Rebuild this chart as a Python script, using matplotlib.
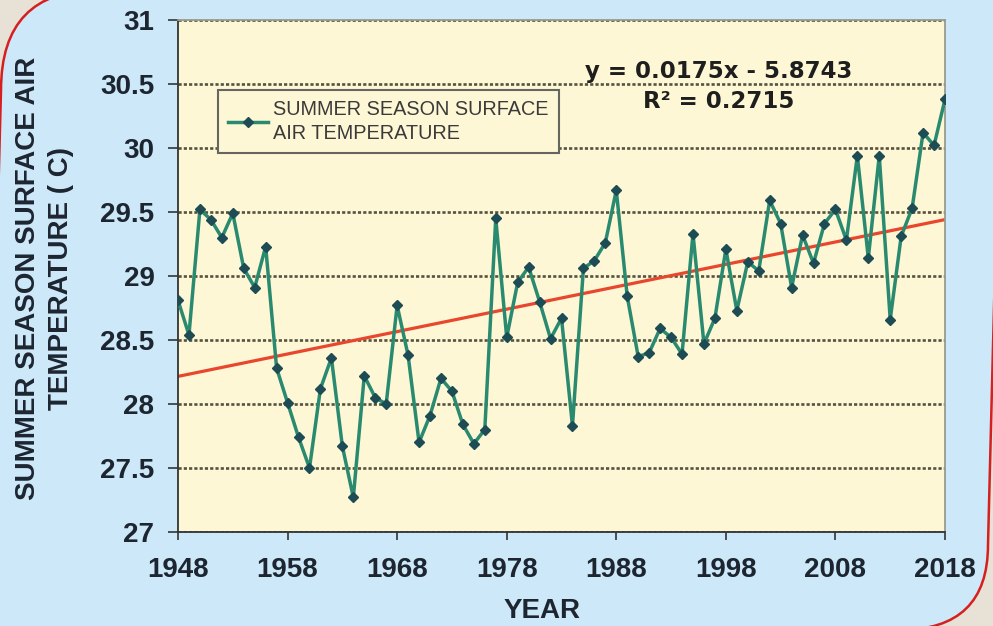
import matplotlib.pyplot as plt
import numpy as np
from matplotlib.path import Path
from matplotlib.patches import PathPatch

years = list(range(1948, 2019))
temps = [28.81, 28.54, 29.52, 29.44, 29.30, 29.49, 29.06, 28.91, 29.23, 28.28,
         28.01, 27.74, 27.50, 28.12, 28.36, 27.67, 27.27, 28.22, 28.05, 28.00,
         28.77, 28.38, 27.70, 27.91, 28.20, 28.10, 27.84, 27.69, 27.80, 29.45,
         28.52, 28.95, 29.07, 28.80, 28.51, 28.67, 27.83, 29.06, 29.12, 29.26,
         29.67, 28.84, 28.37, 28.40, 28.59, 28.52, 28.39, 29.33, 28.47, 28.67,
         29.21, 28.73, 29.11, 29.04, 29.59, 29.41, 28.91, 29.32, 29.10, 29.41,
         29.52, 29.28, 29.94, 29.14, 29.94, 28.66, 29.31, 29.53, 30.12, 30.02,
         30.38]
slope = 0.0175
intercept = -5.8743
r2 = 0.2715
xticks = [1948, 1958, 1968, 1978, 1988, 1998, 2008, 2018]
yticks = [27, 27.5, 28, 28.5, 29, 29.5, 30, 30.5, 31]
ytick_labels = ['27', '27.5', '28', '28.5', '29', '29.5', '30', '30.5', '31']

W, H = 993, 626
txt = '#1c2530'
bold = {'family': ['Liberation Sans', 'DejaVu Sans'], 'weight': 'bold'}

fig = plt.figure(figsize=(W / 100, H / 100), dpi=100)
fig.patch.set_facecolor('#e8e1d5')


def px(x, y):
    # pixel coords (y from top) -> inches
    return (x / 100, (H - y) / 100)


verts = [px(-15, 700), px(1, 90), px(1, -10), px(98, -10), px(1002, -10),
         px(988, 545), px(988, 630), px(900, 630), px(-15, 630), px(-15, 700)]
codes = [Path.MOVETO, Path.LINETO, Path.CURVE3, Path.CURVE3, Path.LINETO,
         Path.LINETO, Path.CURVE3, Path.CURVE3, Path.LINETO, Path.CLOSEPOLY]
panel = PathPatch(Path(verts, codes), facecolor='#cde8f8', edgecolor='#d61f1f',
                  lw=1.8, transform=fig.dpi_scale_trans, zorder=-1)
fig.add_artist(panel)

ax = fig.add_axes([178 / W, 1 - 532 / H, 767 / W, 512 / H])
ax.set_facecolor('#fdf7d6')

ax.yaxis.grid(True, linestyle=(0, (1.2, 0.8)), color='#55533f', lw=1.9, zorder=1)
ax.set_axisbelow(True)

yr = np.array(years)
ax.plot(yr, slope * yr + intercept, color='#e8472e', lw=2.3, zorder=2)
ax.plot(years, temps, color='#2a8a70', lw=2.5, marker='D', markersize=5,
        markerfacecolor='#1d4c55', markeredgecolor='#1d4c55', zorder=3,
        label='SUMMER SEASON SURFACE\nAIR TEMPERATURE')

ax.set_xlim(1948, 2018)
ax.set_ylim(27, 31)
ax.set_xticks(xticks)
ax.set_yticks(yticks)
ax.set_yticklabels(ytick_labels)
for lab in ax.get_xticklabels() + ax.get_yticklabels():
    lab.set_fontfamily(bold['family'])
    lab.set_fontweight('bold')
    lab.set_fontsize(20)
    lab.set_color(txt)
ax.tick_params(axis='y', direction='out', length=7, width=1.2, pad=10, colors='#333333')
ax.tick_params(axis='x', direction='out', length=6, width=1.2, pad=12, colors='#333333')
ax.tick_params(labelcolor=txt)

for s in ['left', 'bottom']:
    ax.spines[s].set_color('#333333')
    ax.spines[s].set_linewidth(1.3)
for s in ['top', 'right']:
    ax.spines[s].set_color('#9a9a90')
    ax.spines[s].set_linewidth(1.3)

ax.set_xlabel('YEAR', fontsize=20, color=txt, **bold)
ax.xaxis.set_label_coords((542 - 178) / 767, -0.128)
ax.set_ylabel('SUMMER SEASON SURFACE AIR\nTEMPERATURE ( C)', fontsize=20, color=txt,
              linespacing=1.3, va='center', ha='center', **bold)
ax.yaxis.set_label_coords((44.5 - 178) / 767, 0.496)

leg = ax.legend(loc='upper left', bbox_to_anchor=((218 - 178) / 767, 1 - 70 / 512),
                borderaxespad=0, borderpad=0.5, handlelength=2.0, handletextpad=0.28,
                fancybox=False, framealpha=1, facecolor='#fdf7d6', edgecolor='#666660',
                prop={'family': ['Liberation Sans', 'DejaVu Sans'], 'size': 14.3})
leg.get_frame().set_linewidth(1.5)
for t in leg.get_texts():
    t.set_color('#3a3a3a')
    t.set_linespacing(1.35)

eq_font = {'family': 'DejaVu Sans', 'weight': 'bold', 'size': 16.5}
ax.text((719 - 178) / 767, (532 - 78) / 512, f'y = {slope}x - {abs(intercept)}',
        transform=ax.transAxes, ha='center', va='baseline', color='#1e1e1e', **eq_font)
ax.text((719 - 178) / 767, (532 - 108) / 512, f'R² = {r2}',
        transform=ax.transAxes, ha='center', va='baseline', color='#1e1e1e', **eq_font)

fig.savefig('out.png', dpi=100)
